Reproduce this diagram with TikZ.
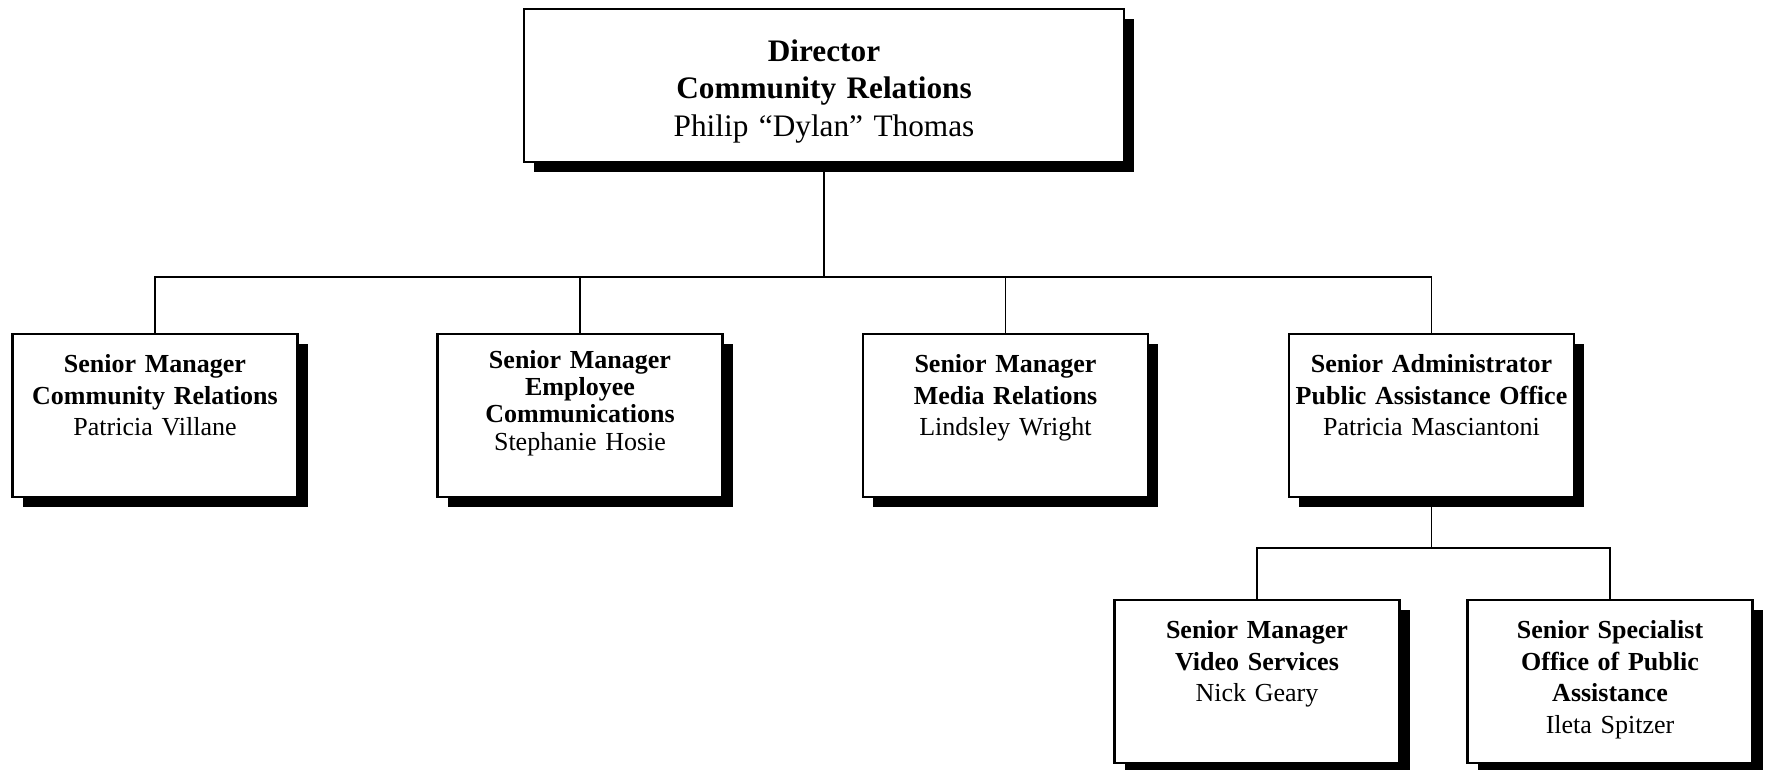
\documentclass[tikz,border=0pt]{standalone}
\usepackage{fontspec}
\setmainfont{Liberation Serif}
\usetikzlibrary{shadows}
\tikzset{
  boxshade/.style={drop shadow={shadow xshift=1mm, shadow yshift=-1mm, fill=black, opacity=1}},
  chief/.style={draw=black, line width=0.6pt, fill=white, align=center, boxshade,
    text width=60mm, text height=5.2mm, text depth=10.1mm, inner sep=0pt,
    font=\fontsize{8.9}{10.7}\selectfont},
  unit/.style={draw=black, line width=0.6pt, fill=white, align=center, boxshade,
    text width=28.5mm, text height=3.85mm, text depth=12.45mm, inner sep=0pt,
    font=\fontsize{7.4}{9}\selectfont},
  tight/.style={text height=3.4mm, text depth=12.9mm, font=\fontsize{7.4}{7.8}\selectfont},
  link/.style={draw=black, line width=0.5pt},
}

\begin{document}
\begin{tikzpicture}[x=0.1mm, y=-0.1mm]
  \useasboundingbox (0,0) rectangle (1768,769);

  % top of the chart
  \node[chief, anchor=north] (dir) at (824,8)
    {\textbf{Director}\\\textbf{Community Relations}\\Philip “Dylan” Thomas};

  % first row
  \node[unit, anchor=north] (cr) at (155,333)
    {\textbf{Senior Manager}\\\textbf{Community Relations}\\Patricia Villane};
  \node[unit, tight, anchor=north] (ec) at (580,333)
    {\textbf{Senior Manager}\\\textbf{Employee}\\\textbf{Communications}\\Stephanie Hosie};
  \node[unit, anchor=north] (mr) at (1005.5,333)
    {\textbf{Senior Manager}\\\textbf{Media Relations}\\Lindsley Wright};
  \node[unit, anchor=north] (pao) at (1431.5,333)
    {\textbf{Senior Administrator}\\\textbf{Public Assistance Office}\\Patricia Masciantoni};

  % second row
  \node[unit, anchor=north] (vs) at (1257,599)
    {\textbf{Senior Manager}\\\textbf{Video Services}\\Nick Geary};
  \node[unit, anchor=north] (opa) at (1610,599)
    {\textbf{Senior Specialist}\\\textbf{Office of Public}\\\textbf{Assistance}\\Ileta Spitzer};

  % connectors
  \coordinate (bus) at (824,277);
  \draw[link] (dir.south) -- (bus);
  \draw[link] (cr.north) |- (bus) -| (pao.north);
  \draw[link] (ec.north) -- (ec.north |- bus);
  \draw[link] (mr.north) -- (mr.north |- bus);
  \draw[link] (pao.south) -- ++(0,50) coordinate (sub);
  \draw[link] (vs.north) |- (sub) -| (opa.north);
\end{tikzpicture}
\end{document}
